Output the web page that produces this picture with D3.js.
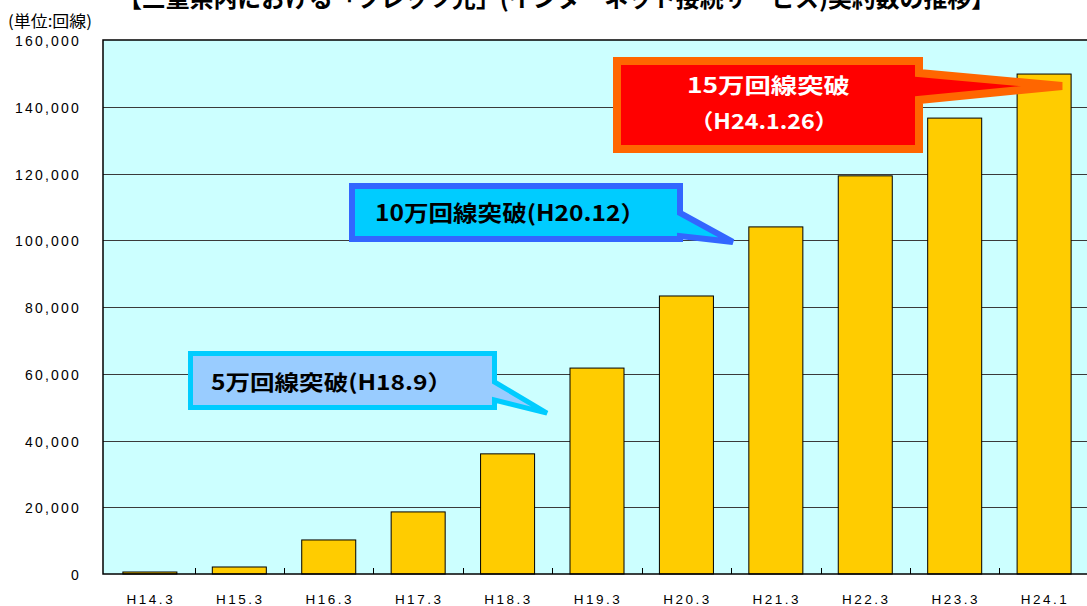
<!DOCTYPE html>
<html>
<head>
<meta charset="utf-8">
<script src="https://cdn.jsdelivr.net/npm/d3@7"></script>
<style>
  body { margin: 0; background: #fff; }
  svg { display: block; }
</style>
</head>
<body>
<div id="chart"></div>
<script>
// data
var periods = ["H14.3", "H15.3", "H16.3", "H17.3", "H18.3", "H19.3", "H20.3", "H21.3", "H22.3", "H23.3", "H24.1"];
var lines = [600, 2100, 10200, 18600, 36000, 61700, 83300, 104000, 119300, 136600, 149800];
var yTicks = [0, 20000, 40000, 60000, 80000, 100000, 120000, 140000, 160000];
var titleText = "【三重県内における「フレッツ光」(インターネット接続サービス)契約数の推移】";
var unitText = "(単位:回線)";

// callouts: text lines, and the point (category, value) the arrow points at
var callouts = [
  { lines: ["15万回線突破", "（H24.1.26）"], at: "H24.1", value: 146200 },
  { lines: ["10万回線突破(H20.12）"], at: "H21.3", value: 99500 },
  { lines: ["5万回線突破(H18.9）"], at: "H19.3", value: 48200 }
];

var W = 1087, H = 606;
var margin = {top: 40, right: 0, bottom: 32, left: 103},
    width = W - margin.left - margin.right,
    height = H - margin.top - margin.bottom;

var svg = d3.select("#chart").append("svg")
    .attr("width", W)
    .attr("height", H);

// title (cut off by the top edge, as in the original)
svg.append("text")
    .attr("x", 118)
    .attr("y", 7)
    .attr("textLength", 877)
    .attr("lengthAdjust", "spacingAndGlyphs")
    .style("font-family", "'Noto Sans CJK JP', sans-serif")
    .style("font-size", "24px")
    .style("font-weight", "bold")
    .style("fill", "#000")
    .text(titleText);

svg.append("text")
    .attr("x", 8)
    .attr("y", 27)
    .attr("textLength", 84)
    .attr("lengthAdjust", "spacingAndGlyphs")
    .style("font-family", "'Noto Sans CJK JP', sans-serif")
    .style("font-size", "16px")
    .text(unitText);

var g = svg.append("g")
    .attr("transform", "translate(" + margin.left + "," + margin.top + ")");

var x = d3.scaleBand()
    .domain(periods)
    .range([2, width + 2])
    .paddingInner(0.396)
    .paddingOuter(0.2);

var y = d3.scaleLinear()
    .domain([0, 160000])
    .range([height, 0]);

// plot background
g.append("rect")
    .attr("width", width)
    .attr("height", height)
    .attr("fill", "#ccffff");

// gridlines
g.append("g")
    .selectAll("line")
    .data(yTicks.filter(function(d) { return d > 0 && d < 160000; }))
    .enter()
    .append("line")
    .attr("x1", 0)
    .attr("x2", width)
    .attr("y1", function(d) { return Math.round(y(d)) + 0.5; })
    .attr("y2", function(d) { return Math.round(y(d)) + 0.5; })
    .attr("stroke", "#3a3a3a")
    .attr("stroke-width", 1);

// bars
g.selectAll(".bar")
    .data(periods)
    .enter()
    .append("rect")
    .attr("class", "bar")
    .attr("x", function(d) { return x(d); })
    .attr("y", function(d, i) { return y(lines[i]); })
    .attr("width", x.bandwidth())
    .attr("height", function(d, i) { return height - y(lines[i]); })
    .attr("fill", "#ffcc00")
    .attr("stroke", "#000")
    .attr("stroke-width", 1);

// x ticks between categories, pointing up into the plot
var gap = (x.step() - x.bandwidth()) / 2;
g.append("g")
    .selectAll("line")
    .data(periods.slice(1))
    .enter()
    .append("line")
    .attr("x1", function(d) { return Math.round(x(d) - gap) + 0.5; })
    .attr("x2", function(d) { return Math.round(x(d) - gap) + 0.5; })
    .attr("y1", height)
    .attr("y2", height - 6)
    .attr("stroke", "#000");

// plot frame
g.append("rect")
    .attr("width", width + 2)
    .attr("height", height)
    .attr("fill", "none")
    .attr("stroke", "#000")
    .attr("stroke-width", 1.5);

// y axis labels
g.append("g")
    .selectAll("text")
    .data(yTicks)
    .enter()
    .append("text")
    .attr("x", -22)
    .attr("y", function(d) { return y(d) + 6; })
    .attr("text-anchor", "end")
    .style("font-family", "Arial, 'Liberation Sans', sans-serif")
    .style("font-size", "14px")
    .style("letter-spacing", "2.2px")
    .text(function(d) { return d3.format(",")(d); });

// x axis labels
g.append("g")
    .selectAll("text")
    .data(periods)
    .enter()
    .append("text")
    .attr("x", function(d) { return x(d) + x.bandwidth() / 2 + 1; })
    .attr("y", height + 30)
    .attr("text-anchor", "middle")
    .style("font-family", "Arial, 'Liberation Sans', sans-serif")
    .style("font-size", "13.5px")
    .style("letter-spacing", "2.5px")
    .text(function(d) { return d; });

// callout boxes (page coords for the box; the tip comes from the scales)
var boxes = [
  { x0: 617, y0: 61, x1: 919, y1: 149, sw: 8, fill: "#ff0000", stroke: "#ff6600",
    wedge: [73, 100], tipDx: 45, color: "#fff", size: 21,
    text: [{x: 687, y: 93, len: 163}, {x: 690, y: 129, len: 148}] },
  { x0: 352, y0: 186, x1: 680, y1: 239, sw: 6, fill: "#00ccff", stroke: "#3366ff",
    wedge: [213, 236], tipDx: -16, color: "#000", size: 22,
    text: [{x: 375, y: 221, len: 270}] },
  { x0: 190.5, y0: 353.5, x1: 494.5, y1: 407.5, sw: 5, fill: "#99ccff", stroke: "#00ccff",
    wedge: [382, 400], tipDx: -23, color: "#000", size: 21,
    text: [{x: 211, y: 390, len: 241}] }
];

callouts.forEach(function(c, i) {
  var b = boxes[i];
  var tx = margin.left + x(c.at) + b.tipDx;
  var ty = margin.top + y(c.value);
  var pts = [
    [b.x0, b.y0], [b.x1, b.y0], [b.x1, b.wedge[0]],
    [tx, ty],
    [b.x1, b.wedge[1]], [b.x1, b.y1], [b.x0, b.y1]
  ];
  svg.append("path")
      .attr("d", d3.line()(pts) + "Z")
      .attr("fill", b.fill)
      .attr("stroke", b.stroke)
      .attr("stroke-width", b.sw)
      .attr("stroke-linejoin", "miter")
      .attr("stroke-miterlimit", 3);

  c.lines.forEach(function(t, j) {
    svg.append("text")
        .attr("x", b.text[j].x)
        .attr("y", b.text[j].y)
        .attr("textLength", b.text[j].len)
        .attr("lengthAdjust", "spacingAndGlyphs")
        .style("font-family", "'Noto Sans CJK JP', sans-serif")
        .style("font-size", b.size + "px")
        .style("font-weight", "bold")
        .style("fill", b.color)
        .text(t);
  });
});
</script>
</body>
</html>
